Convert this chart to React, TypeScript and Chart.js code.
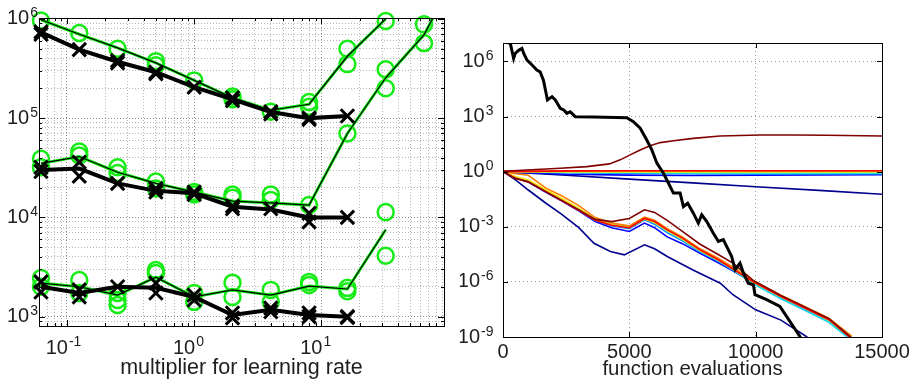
import React, { useEffect, useRef } from 'react';
import { Chart, registerables } from 'chart.js';
Chart.register(...registerables);

// ---------------- Left panel data ----------------
const multipliers = [0.0625, 0.125, 0.25, 0.5, 1, 2, 4, 8, 16, 32, 64, 128];

const topBlackLine = [7.3e5, 4.9e5, 3.7e5, 2.9e5, 2.05e5, 1.55e5, 1.15e5, 1.0e5, 1.05e5];
const topBlackX = [[0.0625, 7.4e5], [0.0625, 7.0e5], [0.125, 4.9e5], [0.25, 3.8e5], [0.25, 3.6e5], [0.5, 2.9e5], [0.5, 2.8e5], [1, 2.05e5], [2, 1.6e5], [2, 1.5e5], [4, 1.16e5], [4, 1.1e5], [8, 1.0e5], [8, 0.97e5], [16, 1.05e5]];
const topGreenLine = [9.8e5, 7.0e5, 5.1e5, 3.6e5, 2.4e5, 1.6e5, 1.2e5, 1.38e5, 4.2e5, 1.0e6];
const topGreenO = [[0.0625, 9.6e5], [0.125, 7.2e5], [0.25, 5.0e5], [0.5, 3.75e5], [0.5, 3.4e5], [1, 2.4e5], [2, 1.65e5], [2, 1.55e5], [4, 1.16e5], [8, 1.45e5], [8, 1.3e5], [16, 5.0e5], [16, 3.5e5], [32, 9.5e5]];

const midBlackLine = [3.0e4, 3.1e4, 2.2e4, 1.85e4, 1.75e4, 1.28e4, 1.2e4, 1.0e4, 1.0e4];
const midBlackX = [[0.0625, 3.2e4], [0.0625, 2.9e4], [0.125, 3.6e4], [0.125, 2.6e4], [0.25, 2.2e4], [0.5, 1.95e4], [0.5, 1.8e4], [1, 1.8e4], [1, 1.7e4], [2, 1.3e4], [2, 1.22e4], [4, 1.22e4], [8, 1.1e4], [8, 0.9e4], [16, 1.0e4]];
const midGreenLine = [3.5e4, 4.1e4, 2.85e4, 2.2e4, 1.8e4, 1.46e4, 1.4e4, 1.33e4, 7.0e4, 2.55e5, 6.9e5, 3.7e6];
const midGreenO = [[0.0625, 3.9e4], [0.0625, 3.2e4], [0.125, 4.6e4], [0.125, 4.2e4], [0.25, 3.2e4], [0.25, 2.8e4], [0.5, 2.3e4], [0.5, 1.95e4], [1, 1.8e4], [1, 1.7e4], [2, 1.7e4], [2, 1.58e4], [4, 1.7e4], [4, 1.5e4], [8, 1.33e4], [16, 7.0e4], [32, 3.1e5], [32, 2.0e5], [64, 8.8e5], [64, 5.7e5]];

const botBlackLine = [2.0e3, 1.73e3, 2.0e3, 1.95e3, 1.58e3, 1.04e3, 1.17e3, 1.04e3, 1.0e3];
const botBlackX = [[0.0625, 2.24e3], [0.0625, 1.77e3], [0.125, 1.86e3], [0.125, 1.58e3], [0.25, 2.0e3], [0.5, 2.18e3], [0.5, 1.73e3], [1, 1.65e3], [1, 1.47e3], [2, 1.09e3], [2, 0.97e3], [4, 1.22e3], [4, 1.12e3], [8, 1.09e3], [8, 1.0e3], [16, 1.0e3], [16, 0.98e3]];
const botGreenLine = [2.18e3, 2.0e3, 1.65e3, 2.5e3, 1.58e3, 1.86e3, 1.65e3, 2.03e3, 1.9e3, 7.5e3];
const botGreenO = [[0.0625, 2.45e3], [0.0625, 2.0e3], [0.125, 2.34e3], [0.125, 1.73e3], [0.25, 1.73e3], [0.25, 1.47e3], [0.25, 1.31e3], [0.5, 2.95e3], [0.5, 2.75e3], [1, 1.73e3], [1, 1.41e3], [2, 2.2e3], [2, 1.58e3], [4, 1.86e3], [4, 1.41e3], [8, 2.24e3], [8, 2.08e3], [16, 1.95e3], [16, 1.8e3], [32, 1.13e4], [32, 4.1e3]];

// ---------------- Right panel data (log10 of value) ----------------
const blackEvals = [0, 290, 420, 480, 620, 750, 820, 950, 1150, 1340, 1470, 1600, 1760, 1940, 2070, 2265, 2400, 2530, 2660, 2860, 3580, 4900, 5160, 5430, 5690, 5890, 6090, 6350, 6550, 6745, 7010, 7140, 7310, 7535, 7730, 7865, 8065, 8325, 8525, 8720, 8920, 9050, 9185, 9380, 9515, 9710, 9910, 9975, 10435, 10960, 11750, 11850];
const blackLog = [7.1, 6.98, 6.16, 6.43, 6.6, 6.7, 6.43, 6.07, 5.8, 5.53, 5.43, 4.98, 3.9, 4.08, 3.9, 3.45, 3.36, 3.17, 3.26, 2.99, 2.97, 2.93, 2.72, 2.36, 1.72, 1.18, 0.46, -0.09, -0.63, -1.17, -1.17, -1.9, -1.72, -2.26, -2.8, -2.35, -2.72, -3.35, -3.8, -3.7, -4.26, -4.62, -5.34, -4.98, -5.52, -6.07, -6.16, -6.7, -6.97, -7.34, -8.97, -9.3];

const maroonEvals = [0, 2265, 3320, 4210, 4640, 5030, 5430, 5820, 6220, 6750, 7535, 8590, 10170, 11490, 12810, 15000];
const hiMaroon = [0.02, 0.18, 0.27, 0.42, 0.64, 0.91, 1.18, 1.41, 1.58, 1.68, 1.81, 1.94, 1.99, 1.99, 1.98, 1.94];

const evalsHigh = [0, 2500, 5000, 7500, 10000, 12500, 15000];
const hiRed = [0, 0.04, 0.05, 0.05, 0.05, 0.05, 0.05];
const hiOrange = [0, 0.02, 0.03, 0.03, 0.03, 0.03, 0.03];
const hiYellow = [0, 0.0, -0.01, -0.01, 0.0, 0.0, 0.0];
const hiGreen = [0, -0.02, -0.03, -0.04, -0.04, -0.04, -0.04];
const hiCyan = [0, -0.04, -0.06, -0.08, -0.08, -0.08, -0.08];
const hiLblue = [0, -0.06, -0.09, -0.11, -0.12, -0.12, -0.12];
const hiBlue = [0, -0.14, -0.19, -0.21, -0.2, -0.18, -0.17];
const hiNavy = [0, -0.2, -0.41, -0.61, -0.82, -1.02, -1.23];

const evalsLow = [0, 500, 1000, 1700, 2300, 3000, 3650, 4300, 5000, 5600, 6000, 6500, 7100, 7800, 8500, 9100, 9900, 11000, 12000, 12900, 13800];
const lowMaroon = [0, -0.38, -0.55, -1.10, -1.55, -2.08, -2.60, -2.72, -2.55, -2.08, -2.22, -2.65, -3.25, -3.95, -4.50, -4.98, -5.92, -6.74, -7.40, -8.00, -9.05];
const lowRed = [0, -0.36, -0.56, -1.09, -1.56, -2.10, -2.65, -2.92, -3.05, -2.55, -2.72, -3.17, -3.62, -4.26, -4.78, -5.30, -6.00, -6.80, -7.46, -8.06, -9.10];
const lowOrange = [0, -0.12, -0.20, -0.90, -1.30, -1.85, -2.50, -2.80, -2.95, -2.48, -2.65, -3.10, -3.55, -4.20, -4.70, -5.20, -5.92, -6.72, -7.38, -7.98, -8.95];
const lowYellow = [0, -0.28, -0.45, -1.00, -1.45, -2.00, -2.60, -2.88, -3.05, -2.58, -2.76, -3.20, -3.65, -4.30, -4.80, -5.28, -5.98, -6.78, -7.44, -8.06, -9.05];
const lowGreen = [0, -0.30, -0.50, -1.04, -1.50, -2.05, -2.62, -2.90, -3.02, -2.56, -2.78, -3.22, -3.68, -4.30, -4.80, -5.30, -6.02, -6.82, -7.48, -8.10, -9.10];
const lowCyan = [0, -0.30, -0.50, -1.05, -1.50, -2.05, -2.60, -2.86, -2.98, -2.52, -2.75, -3.25, -3.70, -4.32, -4.84, -5.34, -6.10, -6.92, -7.58, -8.20, -9.20];
const lowLblue = [0, -0.32, -0.52, -1.07, -1.52, -2.07, -2.66, -2.95, -3.10, -2.62, -2.86, -3.32, -3.76, -4.36, -4.86, -5.36, -6.06, -6.88, -7.55, -8.16, -9.15];
const lowBlue = [0, -0.34, -0.57, -1.12, -1.58, -2.13, -2.72, -3.06, -3.26, -2.80, -3.05, -3.55, -3.92, -4.45, -4.95, -5.40, -6.04, -6.86, -7.52, -8.12, -9.10];

const evalsNavy = [0, 500, 1000, 1700, 2300, 3000, 3600, 4250, 4800, 5600, 6000, 6500, 7500, 8600, 9100, 10000, 11000, 12000, 12150];
const lowNavy = [0, -0.45, -1.0, -1.72, -2.3, -3.05, -3.9, -4.35, -4.53, -3.98, -4.2, -4.62, -5.34, -6.07, -6.7, -7.52, -8.08, -8.97, -9.15];

const rightXTicks = [0, 5000, 10000, 15000];
const rightYTicks = [1e-9, 1e-6, 1e-3, 1, 1e3, 1e6];

// ---------------- styling ----------------
const FONT = "'Liberation Sans', Arial, Helvetica, sans-serif";
const TEXT = '#1e1e1e';
const GREEN = 'rgb(20,236,20)';
const C = {
  navy: '#00008f', blue: '#0000ff', lblue: '#0080ff', cyan: '#10d8f0', green: '#7fff7f',
  yellow: '#f2e200', orange: '#ff8000', red: '#ff0000', maroon: '#800000',
};

const isPow10 = (v: number) => { const e = Math.log10(v); return Math.abs(e - Math.round(e)) < 1e-6; };

function logTicks(min: number, max: number) {
  const out: { value: number; major: boolean }[] = [];
  for (let e = Math.floor(Math.log10(min)); e <= Math.ceil(Math.log10(max)); e++) {
    for (let m = 1; m <= 9; m++) {
      const v = parseFloat((m * Math.pow(10, e)).toPrecision(6));
      if (v >= min && v <= max) out.push({ value: v, major: m === 1 });
    }
  }
  return out;
}

// box around plot + inward tick marks (MATLAB style)
const boxPlugin = {
  id: 'boxTicks',
  afterDatasetsDraw(chart: any, _args: any, opts: any) {
    const { ctx, chartArea: a } = chart;
    const xs = chart.scales.x, ys = chart.scales.y;
    ctx.save();
    ctx.strokeStyle = '#000';
    ctx.lineWidth = 1;
    ctx.beginPath();
    for (const t of xs.ticks) {
      const len = isPow10(t.value) || !opts.log ? opts.major : opts.minor;
      const px = Math.round(xs.getPixelForValue(t.value)) + 0.5;
      if (px < a.left + 1 || px > a.right - 1) continue;
      ctx.moveTo(px, a.bottom); ctx.lineTo(px, a.bottom - len);
      ctx.moveTo(px, a.top); ctx.lineTo(px, a.top + len);
    }
    for (const t of ys.ticks) {
      const len = isPow10(t.value) ? opts.major : opts.minor;
      const py = Math.round(ys.getPixelForValue(t.value)) + 0.5;
      if (py < a.top + 1 || py > a.bottom - 1) continue;
      ctx.moveTo(a.left, py); ctx.lineTo(a.left + len, py);
      ctx.moveTo(a.right, py); ctx.lineTo(a.right - len, py);
    }
    ctx.stroke();
    ctx.strokeRect(Math.round(a.left) + 0.5, Math.round(a.top) + 0.5, Math.round(a.right - a.left), Math.round(a.bottom - a.top));
    ctx.restore();
  },
};

// power-of-ten tick labels with a real superscript exponent
const powPlugin = {
  id: 'powLabels',
  afterDraw(chart: any, _args: any, opts: any) {
    const { ctx, chartArea: a } = chart;
    const base = `20px ${FONT}`;
    const sup = `14px ${FONT}`;
    ctx.save();
    ctx.fillStyle = TEXT;
    const expOf = (v: number) => String(Math.round(Math.log10(v)));
    if (opts.y) {
      const ys = chart.scales.y;
      for (const t of ys.ticks) {
        if (!isPow10(t.value)) continue;
        const py = ys.getPixelForValue(t.value);
        const e = expOf(t.value);
        ctx.font = sup; const we = ctx.measureText(e).width;
        ctx.font = base; const wb = ctx.measureText('10').width;
        const right = a.left - opts.y.pad;
        ctx.textAlign = 'left'; ctx.textBaseline = 'middle';
        ctx.fillText('10', right - we - 1 - wb, py);
        ctx.font = sup; ctx.textBaseline = 'alphabetic';
        ctx.fillText(e, right - we, py - 1.5);
      }
    }
    if (opts.x) {
      const xs = chart.scales.x;
      for (const t of xs.ticks) {
        if (!isPow10(t.value)) continue;
        const px = xs.getPixelForValue(t.value);
        const e = expOf(t.value);
        const my = a.bottom + opts.x.dy;
        ctx.font = base; ctx.textAlign = 'right'; ctx.textBaseline = 'middle';
        ctx.fillText('10', px + 1, my);
        ctx.font = sup; ctx.textAlign = 'left'; ctx.textBaseline = 'alphabetic';
        ctx.fillText(e, px + 2, my - 2.5);
      }
    }
    ctx.restore();
  },
};

const pts = (xs: number[], ys: number[]) => ys.map((y, i) => ({ x: xs[i], y }));
const pairs = (arr: number[][]) => arr.map(([x, y]) => ({ x, y }));
const logPts = (xs: number[], ls: number[]) => ls.map((l, i) => ({ x: xs[i], y: Math.pow(10, l) }));

function lineDs(data: any[], color: string, width: number) {
  return { data, showLine: true, borderColor: color, borderWidth: width, pointRadius: 0, tension: 0, clip: 0, fill: false };
}
function xDs(data: any[]) {
  return { data, showLine: false, pointStyle: 'crossRot', pointRadius: 9.5, pointBorderWidth: 3, pointBorderColor: '#000', borderColor: '#000', pointBackgroundColor: 'rgba(0,0,0,0)', clip: false };
}
function oDs(data: any[]) {
  return { data, showLine: false, pointStyle: 'circle', pointRadius: 8, pointBorderWidth: 2.5, pointBorderColor: GREEN, borderColor: GREEN, pointBackgroundColor: 'rgba(0,0,0,0)', clip: false };
}

const LX_MIN = 0.0603, LX_MAX = 91.9, LY_MIN = 805, LY_MAX = 1.02e6;
const noLabel = () => '';

function leftConfig(): any {
  return {
    type: 'scatter',
    data: {
      datasets: [
        xDs(pairs(topBlackX)), xDs(pairs(midBlackX)), xDs(pairs(botBlackX)),
        lineDs(pts(multipliers, topBlackLine), '#000', 4),
        lineDs(pts(multipliers, midBlackLine), '#000', 4),
        lineDs(pts(multipliers, botBlackLine), '#000', 4),
        lineDs(pts(multipliers, topGreenLine), '#000', 1.2),
        lineDs(pts(multipliers, midGreenLine), '#000', 1.2),
        lineDs(pts(multipliers, botGreenLine), '#000', 1.2),
        lineDs(pts(multipliers, topGreenLine), GREEN, 3),
        lineDs(pts(multipliers, midGreenLine), GREEN, 3),
        lineDs(pts(multipliers, botGreenLine), GREEN, 3),
        oDs(pairs(topGreenO)), oDs(pairs(midGreenO)), oDs(pairs(botGreenO)),
      ],
    },
    options: {
      responsive: false, animation: false, events: [],
      layout: { padding: { left: 0, right: 16, top: 18, bottom: 0 } },
      plugins: {
        legend: { display: false }, tooltip: { enabled: false },
        boxTicks: { major: 6, minor: 3, log: true },
        powLabels: { y: { pad: 1 }, x: { dy: 22 } },
      },
      scales: {
        x: {
          type: 'logarithmic', min: LX_MIN, max: LX_MAX, position: 'bottom',
          afterBuildTicks: (s: any) => { s.ticks = logTicks(LX_MIN, LX_MAX); },
          afterFit: (s: any) => { s.height = 59; },
          ticks: { autoSkip: false, maxRotation: 0, padding: 9, color: TEXT, font: { family: FONT, size: 20 }, callback: noLabel },
          grid: { drawTicks: false, lineWidth: 1, color: (c: any) => (c.tick && isPow10(c.tick.value) ? '#8c8c8c' : '#b4b4b4') },
          border: { display: false, dash: [1, 2] },
          title: { display: true, text: 'multiplier for learning rate', color: TEXT, font: { family: FONT, size: 21.5 }, padding: { top: 0, bottom: 4 } },
        },
        y: {
          type: 'logarithmic', min: LY_MIN, max: LY_MAX,
          afterBuildTicks: (s: any) => { s.ticks = logTicks(LY_MIN, LY_MAX); },
          afterFit: (s: any) => { s.width = 39; },
          ticks: { autoSkip: false, padding: 1, color: TEXT, font: { family: FONT, size: 20 }, callback: noLabel },
          grid: { drawTicks: false, lineWidth: 1, color: (c: any) => (c.tick && isPow10(c.tick.value) ? '#8c8c8c' : '#b4b4b4') },
          border: { display: false, dash: [1, 2] },
        },
      },
    },
    plugins: [boxPlugin, powPlugin],
  };
}

function rightConfig(): any {
  return {
    type: 'scatter',
    data: {
      datasets: [
        lineDs(logPts(blackEvals, blackLog), '#000', 3),
        lineDs(logPts(maroonEvals, hiMaroon), C.maroon, 1.6),
        lineDs(logPts(evalsHigh, hiRed), C.red, 1.6),
        lineDs(logPts(evalsHigh, hiOrange), C.orange, 1.6),
        lineDs(logPts(evalsHigh, hiYellow), C.yellow, 1.6),
        lineDs(logPts(evalsHigh, hiGreen), C.green, 1.6),
        lineDs(logPts(evalsHigh, hiCyan), C.cyan, 1.6),
        lineDs(logPts(evalsHigh, hiLblue), C.lblue, 1.6),
        lineDs(logPts(evalsHigh, hiBlue), C.blue, 1.6),
        lineDs(logPts(evalsHigh, hiNavy), C.navy, 1.6),
        lineDs(logPts(evalsLow, lowMaroon), C.maroon, 1.6),
        lineDs(logPts(evalsLow, lowRed), C.red, 1.6),
        lineDs(logPts(evalsLow, lowOrange), C.orange, 1.6),
        lineDs(logPts(evalsLow, lowYellow), C.yellow, 1.6),
        lineDs(logPts(evalsLow, lowGreen), C.green, 1.6),
        lineDs(logPts(evalsLow, lowCyan), C.cyan, 1.6),
        lineDs(logPts(evalsLow, lowLblue), C.lblue, 1.6),
        lineDs(logPts(evalsLow, lowBlue), C.blue, 1.6),
        lineDs(logPts(evalsNavy, lowNavy), C.navy, 1.6),
      ],
    },
    options: {
      responsive: false, animation: false, events: [],
      layout: { padding: { left: 0, right: 36, top: 43, bottom: 0 } },
      plugins: {
        legend: { display: false }, tooltip: { enabled: false },
        boxTicks: { major: 5, minor: 5, log: false },
        powLabels: { y: { pad: 9.5 } },
      },
      scales: {
        x: {
          type: 'linear', min: 0, max: 15000, position: 'bottom',
          afterBuildTicks: (s: any) => { s.ticks = rightXTicks.map((v) => ({ value: v })); },
          afterFit: (s: any) => { s.height = 48; },
          ticks: { autoSkip: false, maxRotation: 0, padding: 3, color: TEXT, font: { family: FONT, size: 20 }, callback: (v: number) => String(v) },
          grid: { drawTicks: false, lineWidth: 1, color: (c: any) => (c.tick && (c.tick.value === 0 || c.tick.value === 15000) ? 'rgba(0,0,0,0)' : '#999') },
          border: { display: false, dash: [1, 3] },
          title: { display: true, text: 'function evaluations', color: TEXT, font: { family: FONT, size: 20.4 }, padding: { top: 0, bottom: 3 } },
        },
        y: {
          type: 'logarithmic', min: 1e-9, max: 1e7,
          afterBuildTicks: (s: any) => { s.ticks = rightYTicks.map((v) => ({ value: v, major: true })); },
          afterFit: (s: any) => { s.width = 43; },
          ticks: { autoSkip: false, padding: 9, color: TEXT, font: { family: FONT, size: 20 }, callback: noLabel },
          grid: { drawTicks: false, lineWidth: 1, color: (c: any) => (c.tick && c.tick.value <= 1.0001e-9 ? 'rgba(0,0,0,0)' : '#999') },
          border: { display: false, dash: [1, 3] },
        },
      },
    },
    plugins: [boxPlugin, powPlugin],
  };
}

export default function App() {
  const leftRef = useRef<HTMLCanvasElement>(null);
  const rightRef = useRef<HTMLCanvasElement>(null);
  useEffect(() => {
    const c1 = new Chart(leftRef.current as HTMLCanvasElement, leftConfig());
    const c2 = new Chart(rightRef.current as HTMLCanvasElement, rightConfig());
    return () => { c1.destroy(); c2.destroy(); };
  }, []);
  return (
    <div style={{ position: 'absolute', left: 0, top: 0, width: 918, height: 385, background: '#fff' }}>
      <canvas ref={leftRef} width={460} height={385} style={{ position: 'absolute', left: 0, top: 0, width: 460, height: 385 }} />
      <canvas ref={rightRef} width={458} height={385} style={{ position: 'absolute', left: 460, top: 0, width: 458, height: 385 }} />
    </div>
  );
}
